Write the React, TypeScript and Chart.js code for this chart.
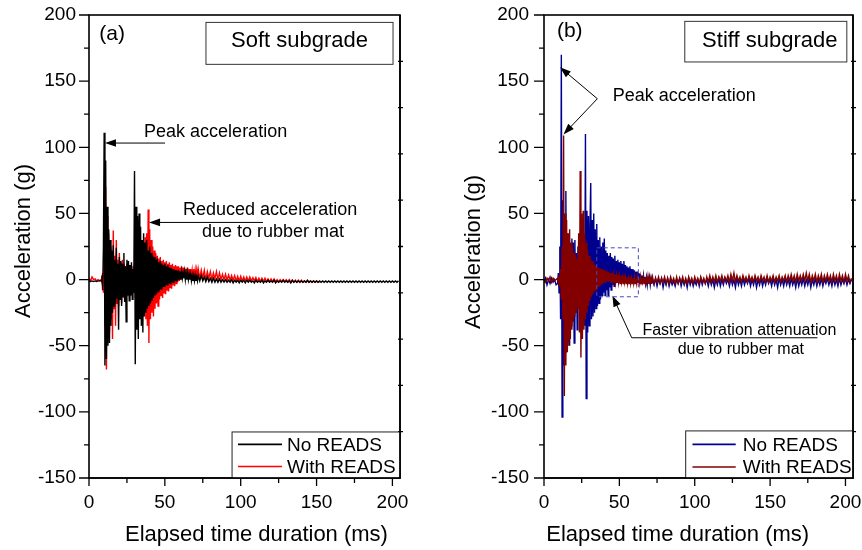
import React, { useEffect, useRef } from "react";
import { Chart, registerables } from "chart.js";

Chart.register(...registerables);

const FONT = '"Liberation Sans", Arial, Helvetica, sans-serif';
Chart.defaults.font.family = FONT;

// ---------- axes ----------
const X_MIN = 0;
const X_MAX = 205;
const Y_MIN = -150;
const Y_MAX = 200;
const X_TICKS = [0, 50, 100, 150, 200];
const X_MINOR = [25, 75, 125, 175];
const Y_TICKS = [-150, -100, -50, 0, 50, 100, 150, 200];
const Y_MINOR = [-125, -75, -25, 25, 75, 125, 175];
const RIGHT_AXIS_MARKS = [165, 130, 95, 60, 25, -10, -45, -80, -115];

// ---------- data (acceleration in g) ----------
// Each series: "pre" samples every 1 ms from 0 ms, then "burst" samples every 0.5 ms,
// then "tail" samples every 1 ms.

// (a) Soft subgrade — No READS
const softNoReadsPre = [-1, -1.5, -1, -1.5, -1, -1.5, -1, -1];
const softNoReadsBurst = [
  -1, 3, -8, 25, 111, -65, 90, -60, 55, -50,
  38, -48, 30, -35, 22, -25, 26, -20, 15, -18,
  24, -14, 12, -38, 17, -15, 14, -20, 12, -13,
  20, -17, 10, -32, 15, -12, 14, -16, 11, -12,
  13, -15, 8, -10, 82, -64, 55, -38, 48, -45,
  50, -30, 40, -35, 30, -40, 35, -28, 28, -25,
  30, -22, 22, -20, 25, -18, 20, -16, 18, -14,
  17, -12, 15, -11, 16, -9, 13, -8, 14, -7,
  12, -6, 11, -5, 12, -4, 10, -4, 11, -3,
  9, -3, 9, -2, 8, -2, 8, -1, 7, -1,
  7, 0, 7, 0, 6, 0, 6, 1, 5, 1,
  6, 0, 5, 0, 5, 0, 4, 0, 4, -1,
  3, -1, 3, -1, 3, -1, 2, -1,
];
const softNoReadsTail = [
  3, -1, 3, -1, 2, -1.5, 2, -1.5, 1, -2,
  1, -2, 0.5, -2, 0.5, -2, 0, -2, 0, -2,
  -0.5, -2, 0, -2.5, -0.5, -2, -0.5, -2.5, -0.5, -2,
  -0.5, -2.5, -0.5, -2, -0.5, -2, -1, -2.5, -0.5, -2,
  -1, -2, -0.5, -2.5, -1, -2, -0.5, -2, -1, -2,
  -0.5, -2.5, -1, -2, -1, -2, -0.5, -2, -1, -2,
  -1, -2.5, -0.5, -2, -1, -2, -1, -2, -1, -2,
  -1, -2, -0.5, -2, -1, -2, -1, -2, -1, -2,
  -1, -2, -1, -2, -1, -2, -1, -2, -1, -2,
  -1, -2, -1, -2, -1, -2, -1, -2, -1, -2,
  -1, -2, -1, -2, -1, -2, -1, -2, -1, -2,
  -1, -2, -1, -2, -1, -2, -1, -2, -1, -2,
  -1, -2, -1, -2, -1, -2, -1, -2, -1, -2,
  -1, -2, -1,
];

// (a) Soft subgrade — With READS
const softWithReadsPre = [1, -1, 2, 0, 0.5, -1, 0, -1];
const softWithReadsBurst = [
  0, -2, 5, -10, 30, -35, 70, -68, 48, -45,
  35, -40, 25, -30, 20, -45, 37, -22, 18, -35,
  30, -18, 15, -20, 20, -15, 13, -18, 15, -12,
  12, -15, 10, -12, 12, -10, 9, -12, 11, -9,
  8, -10, 10, -8, 12, -14, 15, -12, 18, -16,
  20, -18, 22, -20, 25, -22, 28, -25, 32, -30,
  35, -35, 53, -48, 38, -30, 30, -25, 25, -28,
  22, -22, 20, -18, 18, -20, 16, -15, 17, -12,
  14, -14, 15, -10, 13, -11, 14, -8, 12, -9,
  13, -6, 11, -7, 12, -4, 10, -5, 11, -3,
  10, -2, 10, -1, 9, 0, 10, 0, 9, 1,
  9, 1, 8, 1, 9, 2, 8, 1, 8, 2,
  7, 1, 8, 2, 7, 1, 7, 2,
];
const softWithReadsTail = [
  8, 1, 7, 1, 7, 0, 6, 1, 6, 0,
  5, 0.5, 6, 0, 5, 0, 4, 0, 4, -0.5,
  3.5, -0.5, 3, -0.5, 3, -1, 2.5, -1, 2.5, -1,
  2, -1, 2, -1, 2, -1, 1.5, -1, 1.5, -1.5,
  1, -1.5, 1, -1.5, 1, -1.5, 0.5, -1.5, 0.5, -1.5,
  0.5, -1.5, 0, -1.5, 0, -1.5, 0, -1.5, 0, -1.5,
  0, -2, -0.5, -2, -0.5, -2, -0.5, -2, -0.5, -2,
  -1, -2, -1, -2, -1, -2, -1, -2, -1, -2,
  -1.5,
];

// (b) Stiff subgrade — No READS
const stiffNoReadsPre = [-2, 1, -4, 0, -3, 1, -2, 0, -4];
const stiffNoReadsBurst = [
  -3, 5, -10, 25, -30, 170, -104, 60, -65, 45,
  -55, 67, -40, 35, -45, 30, -50, 22, -35, 31,
  -30, 28, -48, 30, -25, 20, -38, 25, -22, 18,
  -30, 22, -20, 15, -28, 30, -35, 110, -90, 52,
  -40, 48, -35, 40, 73, -30, 45, -28, 50, -25,
  38, -22, 42, -20, 30, -18, 32, -15, 25, -12,
  28, -10, 31, -12, 22, -8, 20, -12, 18, -6,
  20, -8, 17, -4, 16, -5, 18, -3, 14, -2,
  15, -1, 13, 0, 14, 1, 12, 0, 14, 1,
  11, 0, 10, 1, 9, 0, 10, 0, 8, -1,
  8, -1, 7, -1, 6, -2, 6, -2, 5, -2,
  4, -3, 3, -3, 3, -2, 2, -3, 1, -4,
  2, -3, 1, -4, 1, -3,
];
const stiffNoReadsTail = [
  0, -4, 1, -5, 0, -3, 1, -6, 0, -4,
  1, -5, 0, -4, -1, -5, 0, -3, 1, -5,
  0, -4, 0, -6, 1, -4, 0, -5, -1, -4,
  0, -5, 1, -4, 0, -3, 0, -5, 1, -4,
  0, -6, 0, -4, 1, -5, 0, -4, 1, -3,
  0, -5, 1, -4, 0, -6, 1, -4, 0, -5,
  1, -4, 0, -3, 1, -5, 0, -4, 1, -6,
  0, -4, 1, -5, 0, -4, 1, -3, 0, -5,
  1, -4, 0, -6, 1, -4, 0, -5, 1, -4,
  0, -5, 1, -4, 0, -6, 1, -5, 0, -4,
  1, -5, 0, -4, 1, -6, 0, -4, 1, -5,
  0, -4, 1, -5, 0, -3, 1, -4, 0, -5,
  1, -4, 0, -5, 1, -4, 0, -3, 1, -4,
  0, -3, 0,
];

// (b) Stiff subgrade — With READS
const stiffWithReadsPre = [0, -2, 1, -1, 2, -2, 1, -1, 0];
const stiffWithReadsBurst = [
  1, -2, 3, -5, 8, -15, 25, -30, 109, -88,
  50, -65, 45, -55, 35, -50, 38, -45, 28, -38,
  24, -32, 20, -28, 18, -25, 16, -22, 35, -40,
  82, -59, 50, -45, 52, -38, 35, -30, 28, -25,
  22, -20, 18, -16, 15, -13, 14, -11, 12, -9,
  11, -8, 10, -6, 9, -5, 9, -4, 8, -3,
  8, -2, 7, -2, 7, -1, 6, -1, 6, -1,
  5, -2, 5, -1, 4, -2, 4, -2, 3, -2,
  4, -2, 3, -3, 3, -2, 2, -3, 3, -2,
  2, -3, 2, -3, 1, -3, 2, -3, 1, -3,
  1, -3, 2, -3, 1, -3, 2, -2, 1, -3,
  2, -3, 1, -2, 2, -3, 1, -3, 2, -2,
  1, -3, 2, -2, 1, -3,
];
const stiffWithReadsTail = [
  2, -3, 1, -2, 2, -3, 1, -2, 2, -3,
  1, -3, 2, -2, 1, -3, 2, -3, 1, -2,
  2, -3, 1, -3, 2, -2, 1, -3, 2, -2,
  1, -3, 2, -2, 1, -3, 2, -2, 3, -2,
  2, -2, 3, -2, 2, -1, 3, -2, 2, -1,
  3, -2, 4, -1, 5, -2, 3, -1, 2, -2,
  3, -1, 2, -2, 3, -1, 2, -2, 3, -1,
  2, -2, 3, -1, 2, -2, 3, -2, 2, -1,
  3, -2, 2, -1, 3, -2, 2, -1, 3, -2,
  3, -1, 4, -1, 3, -2, 4, -1, 3, -1,
  4, -1, 5, -1, 4, -2, 3, -1, 4, -2,
  3, -1, 4, -2, 3, -1, 4, -1, 3, -2,
  4, -1, 3, -2, 4, -1, 3, -2, 4, -1,
  3, -2, 1,
];

// ---------- helpers ----------
type Pt = { x: number; y: number };
function toPoints(pre: number[], burst: number[], tail: number[]): Pt[] {
  const pts: Pt[] = [];
  let t = 0;
  pre.forEach((v) => { pts.push({ x: t, y: v }); t += 1; });
  burst.forEach((v) => { pts.push({ x: t, y: v }); t += 0.5; });
  tail.forEach((v) => { pts.push({ x: t, y: v }); t += 1; });
  return pts;
}

type XY = [number, number];
type PanelCfg = {
  axisLeft: number;
  padRight: number;
  yPad: number;
  yTitleAt: XY;
  xTitleAt: XY;
  series: { label: string; color: string; points: Pt[] }[];
  label: string;
  labelAt: XY;
  box: [number, number, number, number];
  boxText: string;
  boxTextAt: XY;
  texts: { text: string; at: XY; size: number }[];
  arrows: XY[][];
  dashedBox?: [number, number, number, number];
  legendBox: [number, number, number, number];
  legendLineT: [number, number];
  legendTextT: number;
  legendItems: { label: string; color: string; v: number }[];
};

const BLACK = "#000000";
const RED = "#ff0000";
const NAVY = "#00008e";
const MAROON = "#820000";

const PANEL_A: PanelCfg = {
  axisLeft: 89,
  padRight: 31,
  yPad: 13,
  yTitleAt: [24, 241],
  xTitleAt: [256.5, 535],
  // black drawn on top
  series: [
    { label: "No READS", color: BLACK, points: toPoints(softNoReadsPre, softNoReadsBurst, softNoReadsTail) },
    { label: "With READS", color: RED, points: toPoints(softWithReadsPre, softWithReadsBurst, softWithReadsTail) },
  ],
  label: "(a)",
  labelAt: [15.2, 185.2],
  box: [77.1, 194.4, 200.4, 162.7],
  boxText: "Soft subgrade",
  boxTextAt: [138.8, 180.3],
  texts: [
    { text: "Peak acceleration", at: [36.3, 111.6], size: 18 },
    { text: "Reduced acceleration", at: [62, 52.6], size: 18 },
    { text: "due to rubber mat", at: [74.5, 36.3], size: 18 },
  ],
  arrows: [
    [[10.5, 103.2], [50.1, 103.2]],
    [[39.6, 43.2], [114.7, 43.2]],
  ],
  legendBox: [94.3, -115.2, 205, -150],
  legendLineT: [98.2, 127.2],
  legendTextT: 130.5,
  legendItems: [
    { label: "No READS", color: BLACK, v: -124.6 },
    { label: "With READS", color: RED, v: -141.3 },
  ],
};

const PANEL_B: PanelCfg = {
  axisLeft: 113,
  padRight: 9,
  yPad: 15,
  yTitleAt: [43, 252],
  xTitleAt: [246.7, 535],
  // dark red drawn on top
  series: [
    { label: "With READS", color: MAROON, points: toPoints(stiffWithReadsPre, stiffWithReadsBurst, stiffWithReadsTail) },
    { label: "No READS", color: NAVY, points: toPoints(stiffNoReadsPre, stiffNoReadsBurst, stiffNoReadsTail) },
  ],
  label: "(b)",
  labelAt: [17.1, 187.9],
  box: [93.4, 195.2, 200.9, 164.5],
  boxText: "Stiff subgrade",
  boxTextAt: [149.8, 180.3],
  texts: [
    { text: "Peak acceleration", at: [45.6, 138.8], size: 18 },
    { text: "Faster vibration attenuation", at: [65.3, -38.7], size: 16 },
    { text: "due to rubber mat", at: [88.7, -53.2], size: 16 },
  ],
  arrows: [
    [[10.6, 160.5], [35.4, 136.7]],
    [[12.9, 109.7], [35.4, 136.7]],
    [[45.4, -12.2], [58.2, -44], [181.4, -44]],
  ],
  dashedBox: [35, 24, 62.6, -13],
  legendBox: [94, -114.4, 205, -150],
  legendLineT: [98.5, 127.2],
  legendTextT: 131.9,
  legendItems: [
    { label: "No READS", color: NAVY, v: -124.6 },
    { label: "With READS", color: MAROON, v: -141.7 },
  ],
};

function drawArrow(ctx: CanvasRenderingContext2D, pts: XY[]) {
  const [hx, hy] = pts[0];
  const [bx, by] = pts[1];
  const ang = Math.atan2(hy - by, hx - bx);
  const L = 11;
  const W = 3.8;
  ctx.beginPath();
  ctx.moveTo(hx - (L - 2) * Math.cos(ang), hy - (L - 2) * Math.sin(ang));
  for (let i = 1; i < pts.length; i++) ctx.lineTo(pts[i][0], pts[i][1]);
  ctx.stroke();
  ctx.beginPath();
  ctx.moveTo(hx, hy);
  ctx.lineTo(hx - L * Math.cos(ang) + W * Math.sin(ang), hy - L * Math.sin(ang) - W * Math.cos(ang));
  ctx.lineTo(hx - L * Math.cos(ang) - W * Math.sin(ang), hy - L * Math.sin(ang) + W * Math.cos(ang));
  ctx.closePath();
  ctx.fill();
}

function makeDecor(cfg: PanelCfg) {
  return {
    id: "decor",
    afterDraw(chart: any) {
      const { ctx, chartArea: ca, scales } = chart;
      const xs = scales.x;
      const ys = scales.y;
      const px = (t: number) => xs.getPixelForValue(t);
      const py = (v: number) => ys.getPixelForValue(v);
      ctx.save();
      ctx.strokeStyle = "#000";
      ctx.fillStyle = "#000";

      // frame
      ctx.lineWidth = 1.6;
      ctx.strokeRect(ca.left, ca.top, ca.right - ca.left, ca.bottom - ca.top);

      // ticks
      ctx.lineWidth = 1.3;
      ctx.beginPath();
      Y_TICKS.forEach((v) => { ctx.moveTo(ca.left - 10, py(v)); ctx.lineTo(ca.left, py(v)); });
      Y_MINOR.forEach((v) => { ctx.moveTo(ca.left - 5, py(v)); ctx.lineTo(ca.left, py(v)); });
      X_TICKS.forEach((t) => { ctx.moveTo(px(t), ca.bottom); ctx.lineTo(px(t), ca.bottom + 8); });
      X_MINOR.forEach((t) => { ctx.moveTo(px(t), ca.bottom); ctx.lineTo(px(t), ca.bottom + 5); });
      RIGHT_AXIS_MARKS.forEach((v) => { ctx.moveTo(ca.right - 2, py(v)); ctx.lineTo(ca.right + 3, py(v)); });
      ctx.stroke();

      // axis titles
      ctx.font = `22px ${FONT}`;
      ctx.textAlign = "center";
      ctx.textBaseline = "middle";
      ctx.fillText("Elapsed time duration (ms)", cfg.xTitleAt[0], cfg.xTitleAt[1]);
      ctx.save();
      ctx.translate(cfg.yTitleAt[0], cfg.yTitleAt[1]);
      ctx.rotate(-Math.PI / 2);
      ctx.fillText("Acceleration (g)", 0, 0);
      ctx.restore();

      // panel label
      ctx.font = `21px ${FONT}`;
      ctx.fillText(cfg.label, px(cfg.labelAt[0]), py(cfg.labelAt[1]));

      // subgrade box
      ctx.lineWidth = 1;
      ctx.strokeStyle = "#333";
      const [b1, b2, b3, b4] = cfg.box;
      ctx.strokeRect(px(b1), py(b2), px(b3) - px(b1), py(b4) - py(b2));
      ctx.font = `22px ${FONT}`;
      ctx.fillText(cfg.boxText, px(cfg.boxTextAt[0]), py(cfg.boxTextAt[1]));

      // annotations
      ctx.textAlign = "left";
      cfg.texts.forEach((tx) => {
        ctx.font = `${tx.size}px ${FONT}`;
        ctx.fillText(tx.text, px(tx.at[0]), py(tx.at[1]));
      });
      ctx.strokeStyle = "#000";
      ctx.lineWidth = 1;
      cfg.arrows.forEach((a) => drawArrow(ctx, a.map(([t, v]) => [px(t), py(v)] as XY)));

      if (cfg.dashedBox) {
        const [d1, d2, d3, d4] = cfg.dashedBox;
        ctx.save();
        ctx.strokeStyle = "#4848c0";
        ctx.lineWidth = 1;
        ctx.setLineDash([4, 3]);
        ctx.strokeRect(px(d1), py(d2), px(d3) - px(d1), py(d4) - py(d2));
        ctx.restore();
      }

      // legend
      const [l1, l2, l3, l4] = cfg.legendBox;
      ctx.fillStyle = "#fff";
      ctx.fillRect(px(l1), py(l2), px(l3) - px(l1), py(l4) - py(l2));
      ctx.strokeStyle = "#222";
      ctx.lineWidth = 1;
      ctx.strokeRect(px(l1), py(l2), px(l3) - px(l1), py(l4) - py(l2));
      ctx.font = `19px ${FONT}`;
      cfg.legendItems.forEach((it) => {
        ctx.strokeStyle = it.color;
        ctx.lineWidth = 1.6;
        ctx.beginPath();
        ctx.moveTo(px(cfg.legendLineT[0]), py(it.v));
        ctx.lineTo(px(cfg.legendLineT[1]), py(it.v));
        ctx.stroke();
        ctx.fillStyle = "#000";
        ctx.fillText(it.label, px(cfg.legendTextT), py(it.v) + 1);
      });
      // redraw frame edges covered by legend
      ctx.strokeStyle = "#000";
      ctx.lineWidth = 1.6;
      ctx.beginPath();
      ctx.moveTo(ca.left, ca.bottom);
      ctx.lineTo(ca.right, ca.bottom);
      ctx.lineTo(ca.right, ca.top);
      ctx.stroke();

      ctx.restore();
    },
  };
}

function Panel({ cfg }: { cfg: PanelCfg }) {
  const ref = useRef<HTMLCanvasElement>(null);
  useEffect(() => {
    const canvas = ref.current;
    if (!canvas) return;
    const chart = new Chart(canvas, {
      type: "line",
      data: {
        datasets: cfg.series.map((s) => ({
          label: s.label,
          data: s.points,
          borderColor: s.color,
          backgroundColor: s.color,
          borderWidth: 1.4,
          pointRadius: 0,
          tension: 0,
          fill: false,
        })),
      },
      options: {
        responsive: false,
        animation: false,
        events: [],
        layout: { padding: { left: 0, top: 15, right: cfg.padRight, bottom: 0 } },
        plugins: { legend: { display: false }, tooltip: { enabled: false } },
        scales: {
          x: {
            type: "linear",
            min: X_MIN,
            max: X_MAX,
            grid: { display: false, drawTicks: false },
            border: { display: false },
            ticks: { padding: 13, color: "#000", font: { size: 19, family: FONT }, maxRotation: 0 },
            afterBuildTicks: (s: any) => { s.ticks = X_TICKS.map((v) => ({ value: v })); },
            afterFit: (s: any) => {
              s.height = 72;
              s.paddingLeft = 0;
              s.paddingRight = 0;
              s.paddingTop = 0;
              s.paddingBottom = 0;
            },
          },
          y: {
            type: "linear",
            min: Y_MIN,
            max: Y_MAX,
            grid: { display: false, drawTicks: false },
            border: { display: false },
            ticks: { padding: cfg.yPad, color: "#000", font: { size: 19, family: FONT } },
            afterBuildTicks: (s: any) => { s.ticks = Y_TICKS.map((v) => ({ value: v })); },
            afterFit: (s: any) => {
              s.width = cfg.axisLeft;
              s.paddingLeft = 0;
              s.paddingRight = 0;
              s.paddingTop = 0;
              s.paddingBottom = 0;
            },
          },
        },
      } as any,
      plugins: [makeDecor(cfg)],
    });
    return () => chart.destroy();
  }, [cfg]);
  return <canvas ref={ref} width={431} height={550} style={{ display: "block", width: 431, height: 550 }} />;
}

export default function App() {
  return (
    <div style={{ position: "fixed", left: 0, top: 0, width: 862, height: 550, background: "#fff", display: "flex" }}>
      <Panel cfg={PANEL_A} />
      <Panel cfg={PANEL_B} />
    </div>
  );
}
